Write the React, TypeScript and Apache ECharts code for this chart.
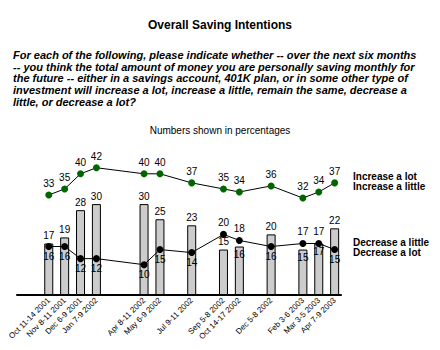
import React, { useEffect, useRef } from 'react';
import * as echarts from 'echarts';

const dates = [
  'Oct 11-14 2001', 'Nov 8-11 2001', 'Dec 6-9 2001', 'Jan 7-9 2002',
  'Apr 8-11 2002', 'May 6-9 2002', 'Jul 9-11 2002', 'Sep 5-8 2002',
  'Oct 14-17 2002', 'Dec 5-8 2002', 'Feb 3-6 2003', 'Mar 3-5 2003', 'Apr 7-9 2003',
];
// months elapsed since October 2001
const monthIndex = [0, 1, 2, 3, 6, 7, 9, 11, 12, 14, 16, 17, 18];
const increase = [33, 35, 40, 42, 40, 40, 37, 35, 34, 36, 32, 34, 37];
const decrease = [16, 16, 12, 12, 10, 15, 14, 20, 18, 16, 17, 17, 15];
const net = [17, 19, 28, 30, 30, 25, 23, 15, 16, 20, 15, 17, 22];

const FONT = "'Liberation Sans', Arial, sans-serif";

const question =
  'For each of the following, please indicate whether -- over the next six months\n' +
  '-- you think the total amount of money you are personally saving monthly for\n' +
  'the future -- either in a savings account, 401K plan, or in some other type of\n' +
  'investment will increase a lot, increase a little, remain the same, decrease a\n' +
  'little, or decrease a lot?';

export default function App() {
  const ref = useRef<HTMLDivElement>(null);
  useEffect(() => {
    document.body.style.margin = '0';
    if (!ref.current) return;
    const chart = echarts.init(ref.current, undefined, { renderer: 'svg' });

    const labelStyle = {
      show: true,
      fontSize: 10,
      color: '#000',
      fontFamily: FONT,
      textBorderWidth: 0,
      textShadowBlur: 0,
    };

    const barData = net.map((v, i) => {
      const diff = decrease[i] - net[i];
      const inside = diff >= 0 && diff < 4;
      return {
        value: [monthIndex[i], v],
        label: { ...labelStyle, position: inside ? 'insideTop' : 'top', distance: 3 },
      };
    });
    const decData = decrease.map((v, i) => ({
      value: [monthIndex[i], v],
      label: { ...labelStyle, position: v >= net[i] ? 'top' : 'bottom', distance: v >= net[i] ? 3 : 1 },
    }));
    const incData = increase.map((v, i) => [monthIndex[i], v]);

    chart.setOption({
      animation: false,
      backgroundColor: '#fff',
      grid: { left: 17, width: 324, top: 143.5, bottom: 55, containLabel: false },
      xAxis: {
        type: 'value',
        min: -2,
        max: 18.4,
        interval: 1,
        splitLine: { show: false },
        axisTick: { show: false },
        axisLine: { show: true, onZero: false, lineStyle: { color: '#000', width: 2 } },
        axisLabel: {
          rotate: 45,
          fontSize: 8,
          margin: 4,
          color: '#000',
          fontFamily: FONT,
          showMinLabel: true,
          showMaxLabel: true,
          formatter: (val: number) => {
            const k = monthIndex.indexOf(Math.round(val));
            return k >= 0 && Math.abs(val - Math.round(val)) < 1e-6 ? dates[k] : '';
          },
        },
      },
      yAxis: { type: 'value', min: 0, max: 50, show: false, splitLine: { show: false } },
      series: [
        {
          type: 'bar',
          data: barData,
          barWidth: 9,
          itemStyle: { color: '#cccccc', borderColor: '#000', borderWidth: 1 },
          label: { ...labelStyle },
          z: 1,
        },
        {
          type: 'line',
          data: decData,
          symbol: 'circle',
          symbolSize: 7,
          itemStyle: { color: '#000' },
          lineStyle: { color: '#000', width: 1 },
          label: { ...labelStyle },
          z: 3,
        },
        {
          type: 'line',
          data: incData,
          symbol: 'circle',
          symbolSize: 7,
          itemStyle: { color: '#006600' },
          lineStyle: { color: '#000', width: 1 },
          label: { ...labelStyle, position: 'top', distance: 3 },
          z: 3,
        },
      ],
      graphic: [
        {
          type: 'text',
          x: 220,
          y: 25,
          style: {
            text: 'Overall Saving Intentions',
            fontSize: 12,
            fontWeight: 'bold',
            fontFamily: FONT,
            fill: '#000',
            align: 'center',
            verticalAlign: 'middle',
          },
        },
        {
          type: 'text',
          x: 13,
          y: 49,
          style: {
            text: question,
            fontSize: 11,
            fontWeight: 'bold',
            fontStyle: 'italic',
            fontFamily: FONT,
            lineHeight: 11.7,
            fill: '#000',
            align: 'left',
            verticalAlign: 'top',
          },
        },
        {
          type: 'text',
          x: 220,
          y: 130,
          style: {
            text: 'Numbers shown in percentages',
            fontSize: 10,
            fontFamily: FONT,
            fill: '#000',
            align: 'center',
            verticalAlign: 'middle',
          },
        },
        {
          type: 'text',
          x: 353,
          y: 181,
          style: {
            text: 'Increase a lot\nIncrease a little',
            fontSize: 10,
            fontWeight: 'bold',
            fontFamily: FONT,
            lineHeight: 10,
            fill: '#000',
            align: 'left',
            verticalAlign: 'middle',
          },
        },
        {
          type: 'text',
          x: 353,
          y: 247.5,
          style: {
            text: 'Decrease a little\nDecrease a lot',
            fontSize: 10,
            fontWeight: 'bold',
            fontFamily: FONT,
            lineHeight: 10,
            fill: '#000',
            align: 'left',
            verticalAlign: 'middle',
          },
        },
      ],
    });
    return () => chart.dispose();
  }, []);
  return <div ref={ref} style={{ width: 440, height: 350 }} />;
}
